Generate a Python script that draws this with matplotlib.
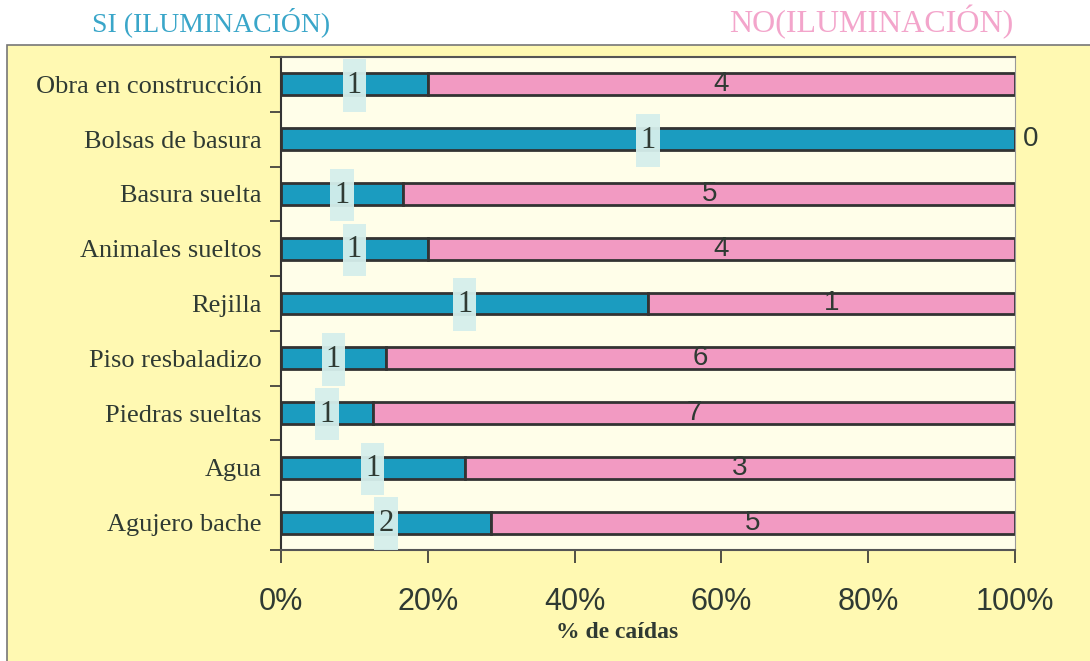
import matplotlib
matplotlib.use('Agg')
import matplotlib.pyplot as plt
import numpy as np
from matplotlib.patches import Rectangle

# datos: numero de caidas con / sin iluminacion
categorias = ['Obra en construcción', 'Bolsas de basura', 'Basura suelta',
              'Animales sueltos', 'Rejilla', 'Piso resbaladizo',
              'Piedras sueltas', 'Agua', 'Agujero bache']
si_ilum = [1, 1, 1, 1, 1, 1, 1, 1, 2]
no_ilum = [4, 0, 5, 4, 1, 6, 7, 3, 5]
x_ticks = [0, 0.2, 0.4, 0.6, 0.8, 1.0]
x_ticklabels = ['0%', '20%', '40%', '60%', '80%', '100%']

SERIF = 'Liberation Serif'
SANS = 'Liberation Sans'
C_SI = '#1b9cc0'
C_NO = '#f29ac2'
TXT = '#2f3a33'

fig = plt.figure(figsize=(10.9, 6.61), dpi=100, facecolor='white')

# fondo amarillo del grafico
fig.patches.append(Rectangle((7 / 1090, -0.01), 1.0, 0.932 + 0.01,
                             transform=fig.transFigure, facecolor='#fff9b2',
                             edgecolor='#777777', lw=1.2, zorder=-5))

ax = fig.add_axes([281 / 1090, 1 - 550 / 661, 734 / 1090, 493 / 661])
ax.set_zorder(2)
ax.set_facecolor('#fffee9')

si = np.array(si_ilum, dtype=float)
no = np.array(no_ilum, dtype=float)
tot = si + no
p_si = si / tot
p_no = no / tot
y = np.arange(len(categorias))

ax.barh(y, p_si, height=0.4, color=C_SI, edgecolor='#333333', lw=2, zorder=2)
ax.barh(y, p_no, left=p_si, height=0.4, color=C_NO, edgecolor='#333333', lw=2, zorder=2)

# fondo claro (alto y estrecho) de las etiquetas SI
box_w = 0.032
ax.barh(y + 0.02, box_w, left=p_si / 2 - box_w / 2, height=0.96,
        color='#d5efec', edgecolor='none', alpha=0.95, zorder=3)

# etiquetas de los segmentos
for i in range(len(categorias)):
    ax.text(p_si[i] / 2, y[i] + 0.02, str(si_ilum[i]), ha='center', va='center',
            family=SERIF, fontsize=22, color=TXT, zorder=4)
    if no_ilum[i] == 0:
        ax.annotate(str(no_ilum[i]), (1.0, y[i]), xytext=(16, 0),
                    textcoords='offset pixels', ha='center', va='center',
                    family=SANS, fontsize=20, color=TXT, annotation_clip=False)
    else:
        ax.text(p_si[i] + p_no[i] / 2, y[i], str(no_ilum[i]), ha='center',
                va='center', family=SANS, fontsize=20, color=TXT, zorder=4)

ax.set_xlim(0, 1)
ax.set_ylim(len(categorias) - 0.5, -0.5)

ax.set_xticks(x_ticks)
ax.set_xticklabels(x_ticklabels, family=SANS, fontsize=22, color=TXT)
ax.tick_params(axis='x', direction='out', length=9, width=1.2, pad=18, color='#333333')

ax.set_yticks(y)
ax.set_yticklabels(categorias, family=SERIF, fontsize=19, color=TXT)
ax.set_yticks(np.arange(len(categorias) + 1) - 0.5, minor=True)
ax.tick_params(axis='y', which='major', length=0, pad=14)
ax.tick_params(axis='y', which='minor', direction='out', length=8, width=1.2, color='#333333')

for s in ['top', 'bottom']:
    ax.spines[s].set_linestyle((0, (1, 1)))
    ax.spines[s].set_color('#555555')
    ax.spines[s].set_linewidth(1.5)
ax.spines['left'].set_color('#333333')
ax.spines['left'].set_linewidth(1.5)
ax.spines['right'].set_color('#999999')
ax.spines['right'].set_linewidth(0.8)

ax.set_xlabel('% de caídas', family=SERIF, fontsize=17, fontweight='bold', color=TXT)
ax.xaxis.set_label_coords(0.458, -0.168)
ax.xaxis.label.set_va('center')

# titulos de las series
fig.text(211 / 1090, 1 - 22 / 661, 'SI (ILUMINACIÓN)', ha='center', va='center',
         family=SERIF, fontsize=20, color='#3aa6c9')
fig.text(871 / 1090, 1 - 22 / 661, 'NO(ILUMINACIÓN)', ha='center', va='center',
         family=SERIF, fontsize=23, color='#f3a5cb')

fig.savefig('out.png', dpi=100, facecolor=fig.get_facecolor())
